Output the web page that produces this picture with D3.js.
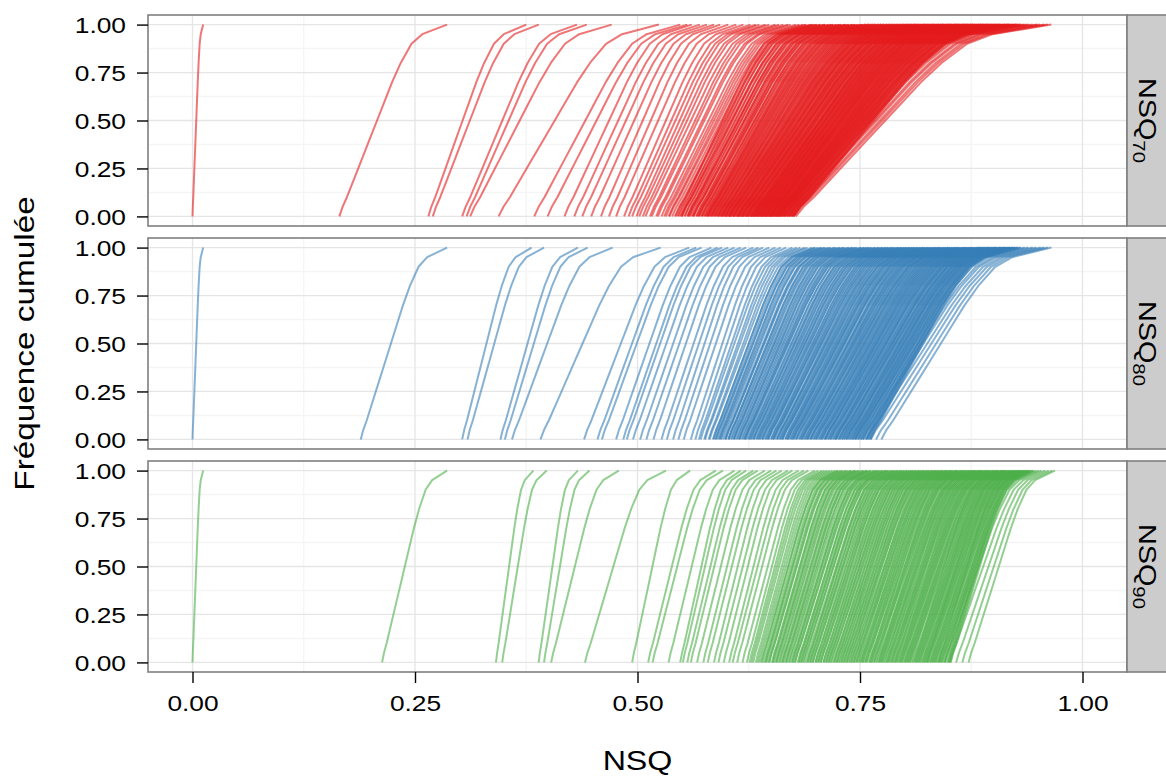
<!DOCTYPE html>
<html><head><meta charset="utf-8">
<script src="https://cdn.jsdelivr.net/npm/d3@7"></script>
<style>body{margin:0;background:#fff}svg{display:block}</style>
</head><body>
<svg id="chart" width="1166" height="776"></svg>
<script>
// ---------- data ----------
const panelLabels = ["NSQ", "NSQ", "NSQ"];
const panelSubs = ["70", "80", "90"];
const panelColors = ["#E41A1C", "#377EB8", "#4DAF4A"];
const xTickValues = [0, 0.25, 0.5, 0.75, 1];
const xMinorValues = [0.125, 0.375, 0.625, 0.875];
const yTickValues = [0, 0.25, 0.5, 0.75, 1];
const yMinorValues = [0.125, 0.375, 0.625, 0.875];
const xTitle = "NSQ";
const yTitle = "Fréquence cumulée";

// shape of one cumulative curve (cumulative frequency vs. fraction of the way from first to last NSQ)
const profileFreq = [0, 0.05, 0.1, 0.2, 0.3, 0.4, 0.5, 0.6, 0.7, 0.8, 0.9, 0.95, 1];
const profileFrac = [0, 0.03, 0.07, 0.14, 0.21, 0.28, 0.35, 0.42, 0.49, 0.57, 0.67, 0.77, 1];

// NSQ at frequency 0 (start) and at frequency 1 (end) of each curve
const startsNSQ70 = [
0, .165, .265, .270, .303, .308, .312, .344, .384, .399, .418, .429, .438, .448, .459, .468, .476, .485,
.490, .494, .499, .502, .506, .509, .514, .516, .521, .523, .527, .530,
.532, .535, .536, .539, .542, .543, .546, .549, .550, .553, .556, .557, .559, .562, .563, .566, .568, .569, .572, .573, .575, .577, .578, .579,
.580, .582, .583, .584, .586, .587, .589, .590, .591, .593, .594, .595, .597, .598, .599, .600, .602, .603, .604, .605,
.607, .608, .609, .611, .612, .613, .614, .616, .617, .618, .619, .621, .622, .623, .624, .626, .627, .628, .629, .630,
.631, .632, .633, .634, .635, .636, .637, .638, .639, .640, .641, .642, .643, .644, .645, .646, .647, .648, .649, .650,
.651, .652, .653, .654, .655, .656, .657, .658, .659, .660,
.662, .664, .665, .668, .670, .673, .675, .678];
const endsNSQ70 = [
.012, .286, .375, .389, .432, .443, .471, .524,
.548, .556, .561, .570, .578, .586, .593, .602, .611, .619,
.627, .633, .637, .644, .648, .655, .659, .664, .669, .672, .678, .682, .686, .689, .694, .697, .699,
.702, .705, .709, .711, .714, .718, .720, .723, .727, .729, .733, .735, .738, .742, .744, .747, .751, .753, .756, .760,
.762, .765, .768, .771, .774, .777, .780, .783, .786, .789, .792, .795, .798,
.800, .803, .805, .807, .809, .812, .814, .816, .818, .821, .823, .825, .827, .830, .832, .834, .836, .839, .841, .843,
.845, .848, .850, .852, .854, .857, .859, .861, .863, .866, .868, .870, .872, .875, .877, .879, .881, .884, .886, .888,
.890, .893, .895, .898,
.901, .904, .907, .909, .913, .916, .918, .922, .925, .927, .931, .934, .937,
.940, .944, .949, .952, .957, .961, .965];
// second group of stations inside the dense band
const startsNSQ70b = [
.545,.548,.550,.553,.556,.558,.561,.563,.566,.568,
.570,.572,.575,.577,.579,.581,.583,.585,.587,.589,
.591,.593,.595,.596,.598,.600,.602,.603,.605,.607,
.608,.610,.612,.613,.615,.616,.618,.619,.621,.622,
.624,.625,.627,.628,.630,.631,.632,.634,.635,.636,
.638,.639,.640,.642,.643,.644,.645,.647,.648,.649,
.650,.651,.652,.654,.655,.656,.657,.658,.659,.660,
.661,.662,.663,.664,.665,.666,.667,.668,.669,.670,
.671,.672,.673,.674,.675,.676];
const endsNSQ70b = [
.690,.696,.701,.706,.711,.716,.720,.725,.729,.733,
.737,.741,.745,.749,.753,.757,.760,.764,.767,.771,
.774,.777,.781,.784,.787,.790,.793,.796,.799,.802,
.805,.808,.811,.813,.816,.819,.822,.824,.827,.829,
.832,.834,.837,.839,.842,.844,.846,.849,.851,.853,
.856,.858,.860,.862,.865,.867,.869,.871,.873,.875,
.877,.879,.882,.884,.886,.888,.890,.892,.894,.896,
.898,.900,.902,.904,.906,.908,.911,.913,.915,.917,
.919,.921,.924,.926,.928,.930];

const startsNSQ80 = [
0, .189, .303, .309, .346, .351, .359, .391, .440, .455, .460, .476, .484, .488, .495, .503, .510, .518, .527, .533, .540, .546, .552, .560, .565,
.569, .571, .575, .576, .580, .581, .585, .587, .588, .591,
.593, .594, .598, .599, .602, .603, .606, .608, .609, .612,
.614, .615, .618, .620, .621, .624, .626, .627, .630, .631,
.634, .636, .637, .640, .641, .644, .646, .647, .650, .652,
.653, .656, .657, .660, .662, .663, .666, .668, .669, .672,
.674, .675, .678, .679, .682, .684, .685, .688, .690, .691,
.694, .695, .698, .700, .701, .704, .706, .707, .710, .711,
.714, .716, .717, .720, .722, .723, .726, .727, .730, .732,
.734, .735, .738, .740, .742, .744, .745, .748, .751, .753,
.757, .762, .768, .774];
const endsNSQ80 = [
.012, .286, .381, .395, .433, .444, .472, .526, .558, .566, .572, .583, .590, .595, .602, .609, .616, .622, .630, .636, .641, .648, .655, .661, .667,
.674, .679, .683, .688, .691, .696, .699, .703, .707, .710,
.714, .717, .721, .724, .728, .731, .734, .738, .741, .744,
.747, .751, .754, .757, .760, .763, .767, .770, .773, .776,
.779, .782, .785, .788, .791, .794, .797, .800, .803, .806,
.809, .812, .815, .818, .821, .823, .826, .829, .832, .835,
.838, .840, .843, .846, .849, .851, .854, .857, .860, .862,
.865, .868, .870, .873, .876, .878, .881, .884, .886, .889,
.891, .894, .896, .899, .902, .904, .907, .909, .912, .914,
.917, .919, .922, .924, .927, .931, .935, .939, .944, .948,
.953, .957, .961, .965];
const startsNSQ80b = [
.585,.589,.592,.596,.599,.602,.605,.608,.611,.614,
.617,.620,.622,.625,.628,.630,.633,.635,.638,.640,
.643,.645,.647,.650,.652,.654,.657,.659,.661,.663,
.666,.668,.670,.672,.674,.676,.678,.681,.683,.685,
.687,.689,.691,.693,.695,.697,.699,.701,.703,.705,
.707,.709,.711,.712,.714,.716,.718,.720,.722,.723,
.725,.727,.729,.730,.732,.734,.736,.737,.739,.741,
.742,.744,.745,.747,.748,.750,.751,.753,.754,.756,
.757,.758,.759,.760,.761,.762];
const endsNSQ80b = [
.700,.706,.711,.717,.722,.727,.732,.737,.742,.746,
.751,.755,.759,.763,.767,.771,.775,.779,.782,.786,
.789,.793,.796,.799,.802,.805,.808,.811,.814,.817,
.820,.823,.826,.828,.831,.834,.836,.839,.841,.844,
.846,.849,.851,.853,.856,.858,.860,.862,.865,.867,
.869,.871,.873,.875,.877,.879,.881,.883,.885,.887,
.889,.891,.893,.895,.896,.898,.900,.902,.903,.905,
.907,.908,.910,.912,.913,.915,.916,.918,.919,.921,
.922,.924,.925,.927,.928,.930];

const startsNSQ90 = [
0, .213, .341, .348, .389, .395, .403, .441, .494, .512, .517, .535, .548, .551, .556, .560, .567, .574, .579, .586, .591, .597, .603, .607, .612, .618,
.623, .626, .628, .630, .633, .635, .637, .639, .642, .644,
.646, .648, .651, .653, .655, .657, .660, .662, .664, .666,
.668, .671, .673, .675, .677, .680, .682, .684, .686, .689,
.691, .693, .695, .697, .700, .702, .704, .706, .709, .711,
.713, .715, .717, .720, .722, .724, .726, .729, .731, .733,
.735, .737, .740, .742, .744, .746, .749, .751, .753, .755,
.757, .760, .762, .764, .766, .769, .771, .773, .775, .777,
.780, .782, .784, .786, .789, .791, .793, .795, .797, .800,
.802, .804, .806, .809, .811, .813, .815, .817, .820, .822,
.824, .826, .829, .831, .833, .835, .838, .840, .842, .845,
.851, .858, .865, .872];
const endsNSQ90 = [
.012, .286, .383, .398, .433, .446, .479, .532, .559, .588, .596, .609, .616, .622, .630, .635, .643, .650, .656, .662, .669, .674, .681, .687, .692, .699,
.703, .707, .710, .713, .716, .719, .722, .725, .728, .731,
.734, .737, .740, .743, .745, .748, .751, .754, .757, .759,
.762, .765, .768, .770, .773, .776, .779, .781, .784, .787,
.789, .792, .795, .797, .800, .803, .805, .808, .810, .813,
.816, .818, .821, .823, .826, .828, .831, .833, .836, .838,
.841, .843, .846, .848, .851, .853, .855, .858, .860, .863,
.865, .867, .870, .872, .874, .877, .879, .881, .884, .886,
.888, .891, .893, .895, .897, .900, .902, .904, .906, .909,
.911, .913, .915, .917, .920, .922, .924, .926, .928, .930,
.932, .934, .936, .938, .940, .942, .945, .948, .951, .954,
.958, .962, .966, .969];
const startsNSQ90b = [
.640,.644,.648,.652,.656,.659,.663,.667,.670,.674,
.677,.681,.684,.687,.691,.694,.697,.700,.703,.706,
.709,.712,.715,.718,.721,.724,.727,.729,.732,.735,
.738,.740,.743,.746,.748,.751,.753,.756,.758,.761,
.763,.766,.768,.771,.773,.775,.778,.780,.782,.785,
.787,.789,.791,.794,.796,.798,.800,.802,.804,.806,
.808,.811,.813,.815,.817,.819,.821,.823,.825,.826,
.828,.830,.832,.834,.836,.838,.839,.841,.843,.845,
.846,.848,.849,.850,.851,.852];
const endsNSQ90b = [
.725,.730,.735,.740,.745,.749,.754,.758,.762,.767,
.771,.775,.779,.782,.786,.790,.793,.797,.800,.803,
.807,.810,.813,.816,.819,.822,.825,.828,.831,.834,
.836,.839,.842,.844,.847,.849,.852,.854,.857,.859,
.861,.864,.866,.868,.870,.873,.875,.877,.879,.881,
.883,.885,.887,.889,.891,.893,.895,.897,.899,.901,
.903,.905,.906,.908,.910,.912,.913,.915,.917,.919,
.920,.922,.924,.925,.927,.929,.930,.932,.934,.935,
.937,.938,.940,.941,.943,.945];

const panelStarts = [[startsNSQ70, startsNSQ70b], [startsNSQ80, startsNSQ80b], [startsNSQ90, startsNSQ90b]];
const panelEnds = [[endsNSQ70, endsNSQ70b], [endsNSQ80, endsNSQ80b], [endsNSQ90, endsNSQ90b]];

// ---------- layout ----------
const svg = d3.select("#chart");
const FONT = "'Liberation Sans', Arimo, Arial, Helvetica, sans-serif";
const SX = 1.17; // horizontal glyph stretch of the reference
const left = 148, right = 1127, stripRight = 1170;
const panelTops = [15, 238, 461], panelH = 211;

const x = d3.scaleLinear().domain([-0.05, 1.05]).range([left, right]);

panelTops.forEach((top, p) => {
  const y = d3.scaleLinear().domain([-0.05, 1.05]).range([top + panelH, top]);
  const g = svg.append("g");
  g.append("rect").attr("x", left).attr("y", top).attr("width", right - left).attr("height", panelH).attr("fill", "#fff");
  g.selectAll(".vminor").data(xMinorValues).join("line")
    .attr("x1", d => x(d)).attr("x2", d => x(d)).attr("y1", top).attr("y2", top + panelH)
    .attr("stroke", "#F5F5F5").attr("stroke-width", 1.4);
  g.selectAll(".hminor").data(yMinorValues).join("line")
    .attr("x1", left).attr("x2", right).attr("y1", d => y(d)).attr("y2", d => y(d))
    .attr("stroke", "#F5F5F5").attr("stroke-width", 1.4);
  g.selectAll(".vmajor").data(xTickValues).join("line")
    .attr("x1", d => x(d)).attr("x2", d => x(d)).attr("y1", top).attr("y2", top + panelH)
    .attr("stroke", "#E5E5E5").attr("stroke-width", 1.3);
  g.selectAll(".hmajor").data(yTickValues).join("line")
    .attr("x1", left).attr("x2", right).attr("y1", d => y(d)).attr("y2", d => y(d))
    .attr("stroke", "#E5E5E5").attr("stroke-width", 1.3);

  // curves
  const curves = [];
  panelStarts[p].forEach((starts, b) => {
    const ends = panelEnds[p][b];
    const n = Math.min(starts.length, ends.length);
    for (let i = 0; i < n; i++) {
      curves.push(profileFreq.map((f, k) => ({ nsq: starts[i] + (ends[i] - starts[i]) * profileFrac[k], freq: f })));
    }
  });
  const line = d3.line().x(d => x(d.nsq)).y(d => y(d.freq));
  g.append("g").selectAll("path").data(curves).join("path")
    .attr("d", line).attr("fill", "none")
    .attr("stroke", panelColors[p]).attr("stroke-opacity", 0.6)
    .attr("stroke-width", 2).attr("stroke-linejoin", "round");

  g.append("rect").attr("x", left).attr("y", top).attr("width", right - left).attr("height", panelH)
    .attr("fill", "none").attr("stroke", "#7F7F7F").attr("stroke-width", 1.6);

  // strip
  g.append("rect").attr("x", right).attr("y", top).attr("width", stripRight - right).attr("height", panelH)
    .attr("fill", "#CCCCCC").attr("stroke", "#7F7F7F").attr("stroke-width", 1.6);
  const st = g.append("text")
    .attr("transform", `translate(1139,${top + panelH / 2}) rotate(90) scale(1.2,1)`)
    .attr("text-anchor", "middle").attr("font-family", FONT).attr("font-size", 24).attr("fill", "#000");
  st.append("tspan").text(panelLabels[p]);
  st.append("tspan").attr("font-size", 17).attr("dy", 6).text(panelSubs[p]);

  // y axis
  const ya = g.append("g").attr("transform", `translate(${left},0)`)
    .call(d3.axisLeft(y).tickValues(yTickValues).tickFormat(d3.format(".2f")).tickSize(11).tickPadding(11));
  ya.select(".domain").remove();
  ya.selectAll(".tick line").attr("stroke", "#000").attr("stroke-width", 1.4);
  ya.selectAll(".tick text").each(function () {
    const t = d3.select(this); const tx = +t.attr("x");
    t.attr("x", 0).attr("dy", "0.36em").attr("transform", `translate(${tx},0) scale(${SX},1)`);
  }).attr("font-family", FONT).attr("font-size", 22.5).attr("fill", "#000");
});

// x axis (bottom)
const xa = svg.append("g").attr("transform", `translate(0,${panelTops[2] + panelH})`)
  .call(d3.axisBottom(x).tickValues(xTickValues).tickFormat(d3.format(".2f")).tickSize(11).tickPadding(12));
xa.select(".domain").remove();
xa.selectAll(".tick line").attr("stroke", "#000").attr("stroke-width", 1.4);
xa.selectAll(".tick text").attr("transform", `scale(${SX},1)`)
  .attr("font-family", FONT).attr("font-size", 22.5).attr("fill", "#000");

// titles
svg.append("text").attr("transform", `translate(637.5,760) scale(1.15,1)`)
  .attr("text-anchor", "middle").attr("dy", "0.35em")
  .attr("font-family", FONT).attr("font-size", 28).attr("fill", "#000").text(xTitle);
svg.append("text").attr("transform", `translate(24,343.5) rotate(-90) scale(1.19,1)`)
  .attr("text-anchor", "middle").attr("dy", "0.35em")
  .attr("font-family", FONT).attr("font-size", 28).attr("fill", "#000").text(yTitle);
</script>
</body></html>
